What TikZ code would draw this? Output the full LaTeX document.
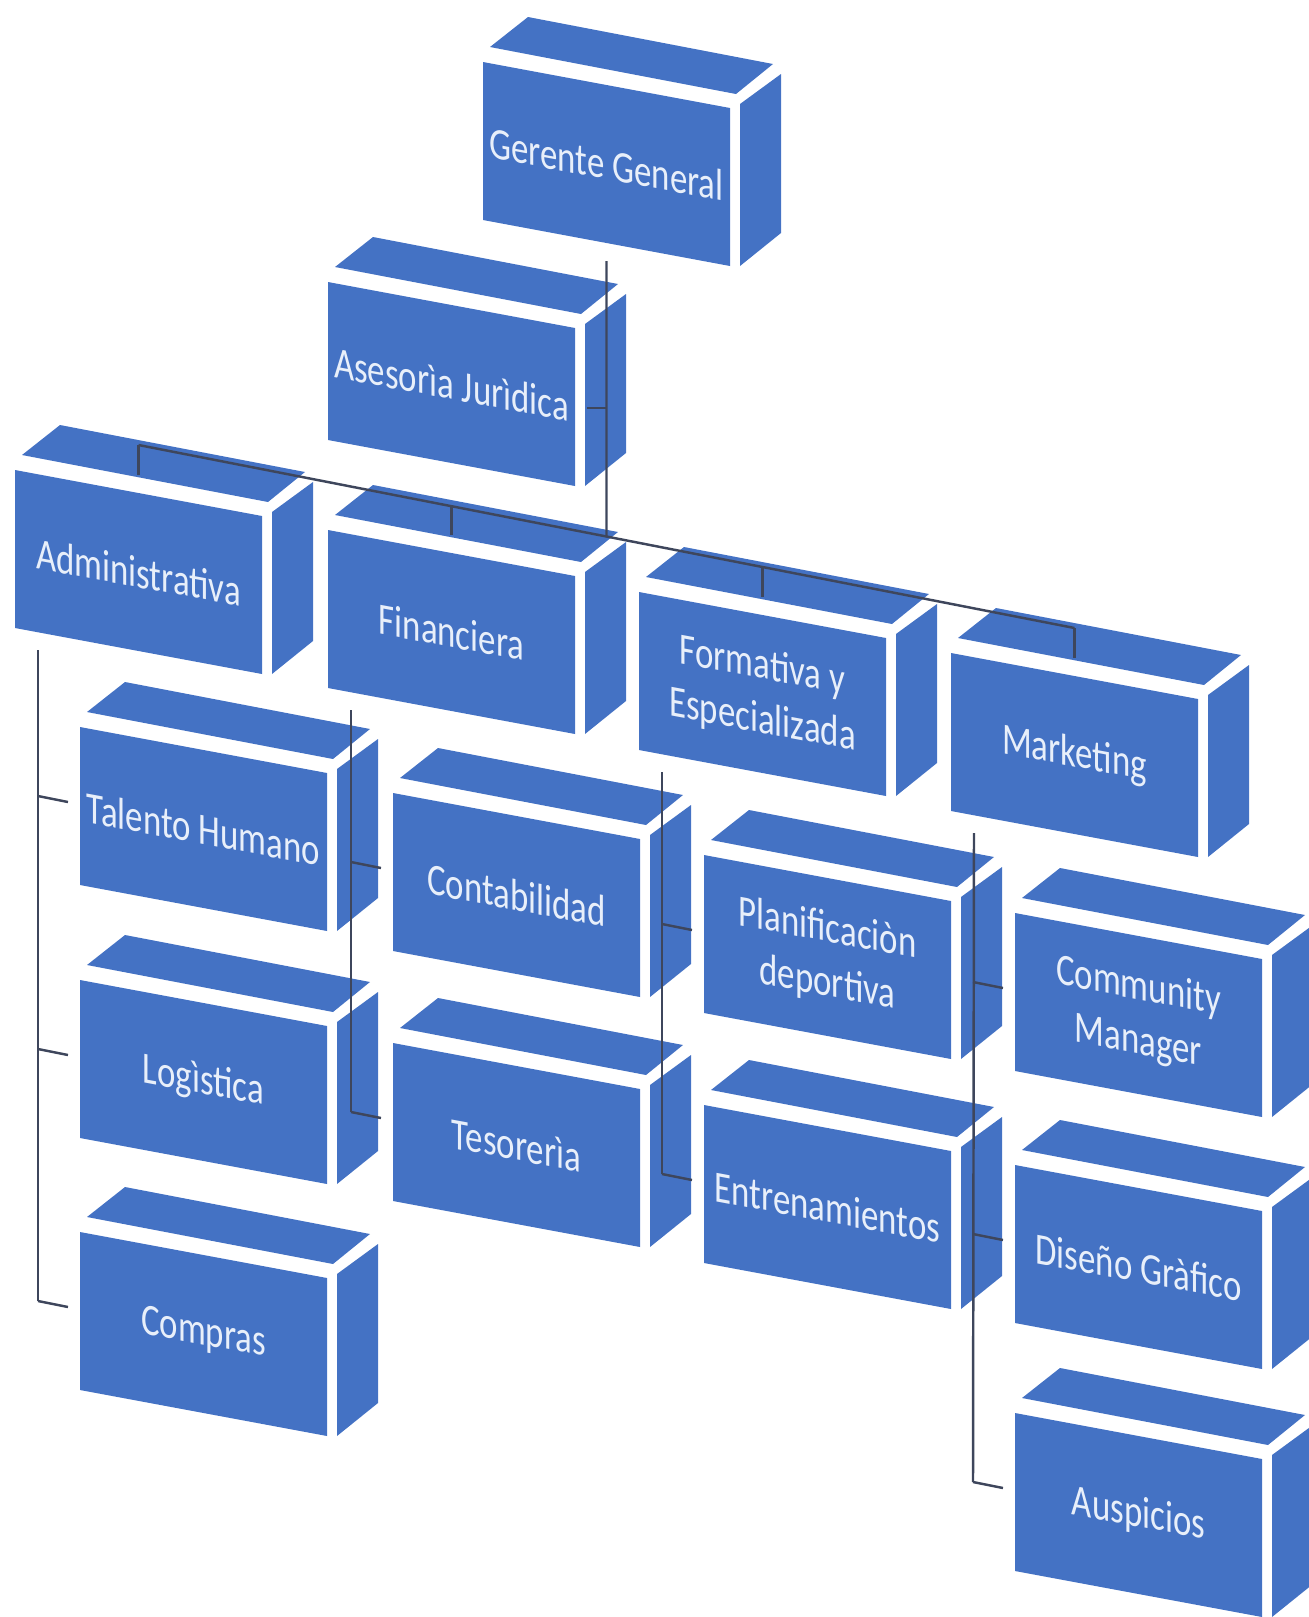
\documentclass[tikz,border=0pt]{standalone}
\usepackage{fontspec}
\setmainfont{Carlito}
\usetikzlibrary{calc}
\definecolor{BoxBlue}{RGB}{68,114,196}
\definecolor{LinkGray}{RGB}{62,70,92}
\definecolor{SnowText}{RGB}{232,239,250}

\newcommand{\orgbox}[4]{%
  \begin{scope}[shift={(#2,#3)}]
    \fill[BoxBlue] (7,-15) -- (253,32) -- (290,2) -- (45,-45) -- cycle;
    \fill[BoxBlue] (257,42) -- (298,12) -- (298,171) -- (257,204) -- cycle;
    \fill[BoxBlue] (0,0) -- (247,46) -- (247,204) -- (0,158) -- cycle;
    \node[boxtext] (#1) at (123.5,102) {#4};
    \coordinate (#1-u) at (123.5,-25);
    \coordinate (#1-n) at (123.5,5);
    \coordinate (#1-b) at (123.5,199);
    \coordinate (#1-s) at (23,180);
    \coordinate (#1-i) at (-42,69);
    \coordinate (#1-l) at (-12,75);
    \coordinate (#1-r) at (259,126);
  \end{scope}}

\begin{document}
\begin{tikzpicture}[x=0.01cm,y=-0.01cm,
  boxtext/.style={text=SnowText,align=center,inner sep=0pt,
    yslant=-0.186,xscale=0.78,font=\fontsize{12.7}{15.5}\selectfont},
  link/.style={LinkGray,line width=0.7pt}]
  \clip (0,0) rectangle (1309,1617);
  \foreach \n/\x/\y/\txt in {gg/483/62/Gerente General,
      asr/328/282/Asesorìa Jurìdica,
      adm/15/470/Administrativa, fin/328/530/Financiera,
      frm/639/592/{Formativa y\\Especializada}, mkt/951/653/Marketing,
      tal/80/727/Talento Humano, log/80/980/Logìstica, com/80/1232/Compras,
      con/393/793/Contabilidad, tes/393/1043/Tesorerìa,
      pla/704/855/{Planificaciòn\\deportiva}, ent/704/1105/Entrenamientos,
      cm/1015/913/{Community\\Manager}, dis/1015/1165/Diseño Gràfico,
      aus/1015/1413/Auspicios}{
    \orgbox{\n}{\x}{\y}{\txt}
  }
  \coordinate (join) at (intersection of gg-b--gg-n and adm-u--mkt-u);
  \draw[link] (gg-b) -- (join);
  \draw[link] (asr-r) -- (asr-r -| gg-b);
  \draw[link] (adm-u) -- (mkt-u);
  \foreach \n in {adm,fin,frm,mkt}
    \draw[link] (\n-u) -- (\n-n);
  \draw[link] (adm-s) -- (com-i);
  \draw[link] (fin-s) -- (tes-i);
  \draw[link] (frm-s) -- (ent-i);
  \draw[link] (mkt-s) -- (aus-i);
  \foreach \n in {tal,log,com,con,tes,pla,ent,cm,dis,aus}
    \draw[link] (\n-i) -- (\n-l);
\end{tikzpicture}
\end{document}
